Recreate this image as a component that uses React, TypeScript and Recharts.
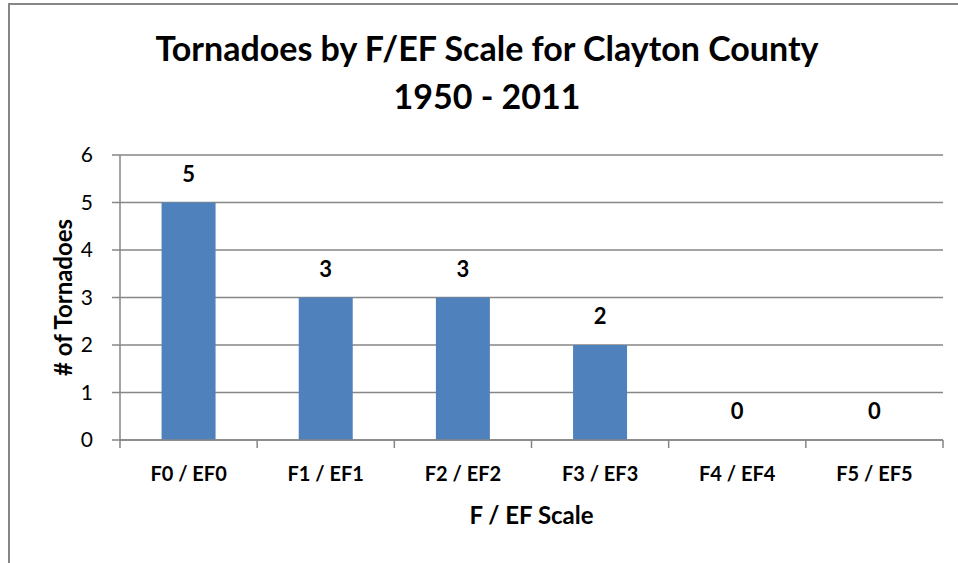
import React from 'react';
import { ComposedChart, Bar, Line, XAxis, YAxis, CartesianGrid, LabelList, Label } from 'recharts';

const categories = ['F0 / EF0', 'F1 / EF1', 'F2 / EF2', 'F3 / EF3', 'F4 / EF4', 'F5 / EF5'];
const tornadoCounts = [5, 3, 3, 2, 0, 0];
const yTicks = [0, 1, 2, 3, 4, 5, 6];

const data = categories.map((name, i) => ({ name, count: tornadoCounts[i] }));

const GRAY = '#868686';
const FONT = 'Lato, "Open Sans", sans-serif';
const TICK_GAP = 27;

// category ticks sit at band centres; Excel draws its tick marks on the band edges
function EdgeTick(props: any) {
  const { x, y, payload, index, visibleTicksCount } = props;
  const half = payload.offset || 0;
  const axisY = y - TICK_GAP;
  return (
    <g>
      <line x1={x - half} x2={x - half} y1={axisY} y2={axisY + 8} stroke={GRAY} strokeWidth={1.5} />
      {index === visibleTicksCount - 1 && (
        <line x1={x + half} x2={x + half} y1={axisY} y2={axisY + 8} stroke={GRAY} strokeWidth={1.5} />
      )}
      <text x={x} y={y} dy="0.71em" textAnchor="middle" fill="#000" fontWeight="bold" fontSize={20} fontFamily={FONT}>
        {payload.value}
      </text>
    </g>
  );
}

export default function App() {
  return (
    <div style={{ position: 'absolute', left: 0, top: 0, width: 958, height: 563, overflow: 'hidden', background: '#fff', fontFamily: FONT }}>
      <div style={{ position: 'absolute', left: 8, top: 3, width: 1000, height: 620, border: `2px solid ${GRAY}` }} />
      <div style={{ position: 'absolute', left: 0, width: 974, top: 24, textAlign: 'center', fontWeight: 'bold', fontSize: 34, lineHeight: '48px', color: '#000' }}>
        <div>Tornadoes by F/EF Scale for Clayton County</div>
        <div>1950 - 2011</div>
      </div>
      <div style={{ position: 'absolute', left: 0, top: 0 }}>
        <ComposedChart
          width={958}
          height={563}
          data={data}
          margin={{ top: 155, right: 15, left: 20, bottom: 33 }}
          barCategoryGap="30.3%"
        >
          <CartesianGrid vertical={false} stroke={GRAY} strokeWidth={1.5} />
          <XAxis
            dataKey="name"
            height={90}
            tickLine={false}
            tickSize={0}
            tickMargin={TICK_GAP}
            axisLine={{ stroke: GRAY, strokeWidth: 1.5 }}
            tick={<EdgeTick />}
            interval={0}
          >
            <Label value="F / EF Scale" position="insideBottom" offset={6} fill="#000" fontWeight="bold" fontSize={24} fontFamily={FONT} />
          </XAxis>
          <YAxis
            width={100}
            domain={[0, 6]}
            ticks={yTicks}
            interval={0}
            tickSize={8}
            tickMargin={19}
            tickLine={{ stroke: GRAY, strokeWidth: 1.5 }}
            axisLine={{ stroke: GRAY, strokeWidth: 1.5 }}
            tick={{ fill: '#000', fontSize: 21, fontFamily: FONT }}
            label={{
              content: ({ viewBox }: any) => {
                const cx = viewBox.x + 42;
                const cy = viewBox.y + viewBox.height / 2;
                return (
                  <text x={cx} y={cy} transform={`rotate(-90, ${cx}, ${cy})`} textAnchor="middle" dominantBaseline="central" fill="#000" fontWeight="bold" fontSize={24} fontFamily={FONT}>
                    # of Tornadoes
                  </text>
                );
              },
            }}
          />
          <Bar dataKey="count" fill="#4F81BD" isAnimationActive={false} />
          {/* invisible carrier so that zero-height bars still get their value label */}
          <Line dataKey="count" stroke="none" dot={false} activeDot={false} legendType="none" isAnimationActive={false}>
            <LabelList dataKey="count" position="top" offset={21} fill="#000" fontWeight="bold" fontSize={22} fontFamily={FONT} />
          </Line>
        </ComposedChart>
      </div>
    </div>
  );
}
